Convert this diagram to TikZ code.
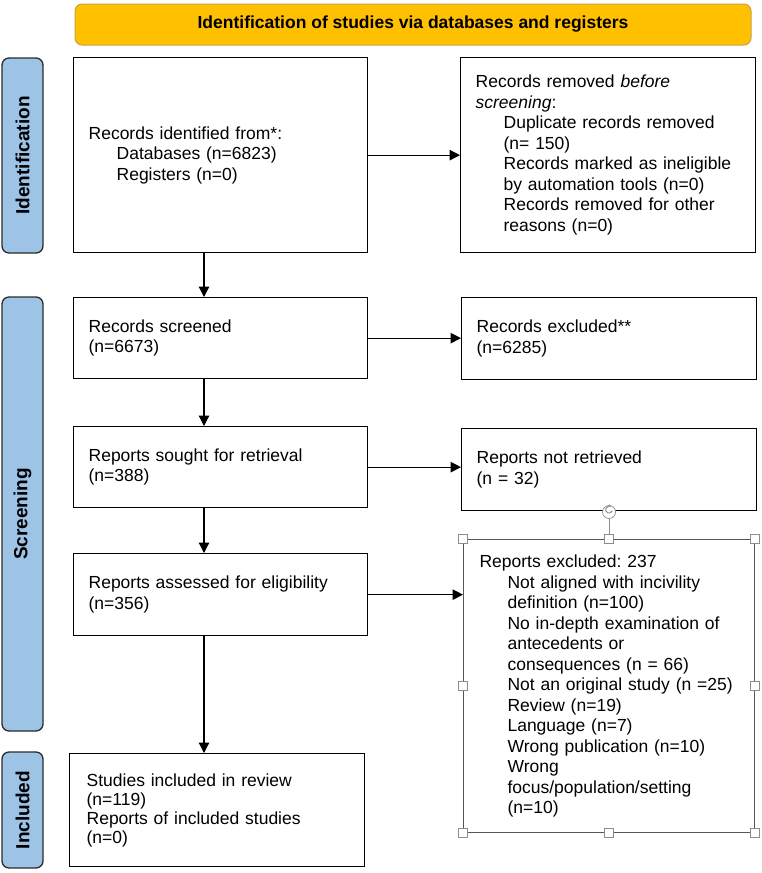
\documentclass[tikz,border=0pt]{standalone}
\usepackage{fontspec}
\setmainfont{Liberation Sans}
\usetikzlibrary{arrows.meta,calc}
\definecolor{bannerfill}{HTML}{FFC000}
\definecolor{bannerdraw}{HTML}{C9A23F}
\definecolor{sidefill}{HTML}{9DC3E6}
\definecolor{sidedraw}{HTML}{2B2B2B}
\definecolor{handlegray}{HTML}{8C8C8C}
\definecolor{selgray}{HTML}{555555}
\newcommand\indt{\hspace*{28pt}}
\frenchspacing
\begin{document}
\begin{tikzpicture}[x=1pt,y=-1pt,
  box/.style={draw, line width=1.3pt, inner xsep=15pt, inner ysep=0pt, align=left,
    anchor=north west, font=\fontsize{17.5}{20.5}\selectfont},
  sidelabel/.style={draw=sidedraw, fill=sidefill, line width=1.3pt, rounded corners=7pt,
    rotate=90, minimum height=41pt, inner sep=0pt, font=\bfseries\fontsize{19}{22}\selectfont},
  banner/.style={draw=bannerdraw, fill=bannerfill, line width=1pt, rounded corners=7pt,
    minimum width=676pt, minimum height=41pt, inner sep=0pt, font=\bfseries\fontsize{17.5}{20}\selectfont},
  arr/.style={line width=1.2pt, -{Triangle[length=10.5pt,width=10.5pt]}},
  handle/.style={draw=handlegray, fill=white, line width=0.7pt}
]
\useasboundingbox (0,0) rectangle (762,873);

% banner
\node[banner] (banner) at (413,24.5) {Identification of studies via databases and registers};

% side labels
\node[sidelabel, minimum width=195pt] (labId) at (22.5,155.5) {Identification};
\node[sidelabel, minimum width=434pt] (labScr) at (22.5,514) {Screening};
\node[sidelabel, minimum width=116pt] (labInc) at (22.5,810) {Included};

% boxes
\node[box, text width=264pt, minimum height=195pt] (box1) at (73,57)
  {Records identified from*:\\ \indt Databases (n=6823)\\ \indt Registers (n=0)};
\node[box, text width=265pt, minimum height=195pt] (removed) at (460,57)
  {Records removed \textit{before}\\ \textit{screening}:\\ \indt Duplicate records removed\\ \indt (n= 150)\\
   \indt Records marked as ineligible\\ \indt by automation tools (n=0)\\ \indt Records removed for other\\ \indt reasons (n=0)};
\node[box, text width=264pt, minimum height=81pt] (screened) at (73,297)
  {Records screened\\ (n=6673)};
\node[box, text width=265pt, minimum height=82pt] (excluded) at (461,297)
  {Records excluded**\\ (n=6285)};
\node[box, text width=264pt, minimum height=81pt] (sought) at (73,426)
  {Reports sought for retrieval\\ (n=388)};
\node[box, text width=265pt, minimum height=82pt] (notret) at (461,428)
  {Reports not retrieved\\ (n = 32)};
\node[box, text width=264pt, minimum height=82pt] (assessed) at (73,553)
  {Reports assessed for eligibility\\ (n=356)};
\node[box, draw=selgray, line width=1.1pt, inner xsep=16pt, text width=259pt, minimum height=293pt] (excl2) at (463,539)
  {Reports excluded: 237\\ \indt Not aligned with incivility\\ \indt definition (n=100)\\
   \indt No in-depth examination of\\ \indt antecedents or\\ \indt consequences (n = 66)\\
   \indt Not an original study (n =25)\\ \indt Review (n=19)\\ \indt Language (n=7)\\
   \indt Wrong publication (n=10)\\ \indt Wrong\\ \indt focus/population/setting\\ \indt (n=10)};
\node[box, inner xsep=17pt, text width=261pt, minimum height=113pt, font=\fontsize{17.5}{19}\selectfont] (studies) at (69,753)
  {Studies included in review\\ (n=119)\\ Reports of included studies\\ (n=0)};

% connectors
\coordinate (ax) at (204,0);
\draw[arr] (box1.east) -- (box1.east -| removed.west);
\draw[arr] (screened.east) -- (screened.east -| excluded.west);
\draw[arr] (sought.east) -- (sought.east -| notret.west);
\draw[arr] (assessed.east) -- (assessed.east -| excl2.west);
\draw[arr] (box1.south -| ax) -- (screened.north -| ax);
\draw[arr] (screened.south -| ax) -- (sought.north -| ax);
\draw[arr] (sought.south -| ax) -- (assessed.north -| ax);
\draw[arr] (assessed.south -| ax) -- (studies.north -| ax);

% selection handles
\draw[handlegray, line width=0.8pt] (excl2.north) -- ++(0,-20);
\draw[handle] ($(excl2.north)+(0,-27)$) circle (6.5pt);
\draw[handlegray, line width=1pt, -{Stealth[length=2.5pt,width=3pt]}]
  ($(excl2.north)+(0,-27)+(3.2,-1.2)$) arc[start angle=-20, end angle=-300, radius=3.4pt];
\foreach \a in {north west, north, north east, west, east, south west, south, south east}{
  \draw[handle] ($(excl2.\a)+(-4.5,-4.5)$) rectangle ($(excl2.\a)+(4.5,4.5)$);
}
\end{tikzpicture}
\end{document}
